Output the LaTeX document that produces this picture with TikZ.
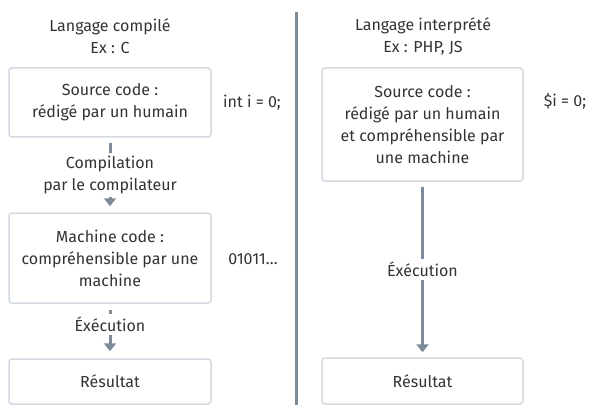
\documentclass[tikz,border=0pt]{standalone}
\usepackage{fontspec}
\setmainfont{Fira Sans}
\usetikzlibrary{arrows.meta}
\definecolor{txt}{HTML}{333333}
\definecolor{boxline}{HTML}{D3DAE1}
\definecolor{arrowc}{HTML}{7D8A97}
\tikzset{
  stepbox/.style={draw=boxline, line width=1.5pt, rounded corners=3pt, fill=white,
    text=txt, align=center, inner sep=0pt},
  plain/.style={text=txt, align=center, inner sep=0pt},
  flow/.style={draw=arrowc, line width=3pt, -{Triangle[width=12pt,length=8pt]}},
  flowlabel/.style={fill=white, text=txt, align=center, inner xsep=2pt, inner ysep=3pt},
}
\begin{document}
\begin{tikzpicture}[x=1pt,y=-1pt, font=\fontsize{16}{22}\selectfont]
\useasboundingbox (0,0) rectangle (605,417);
% titles
\node[plain] (t1) at (110,36.5) {Langage compilé\\Ex : C};
\node[plain] (t2) at (423,36.5) {Langage interprété\\Ex : PHP, JS};
% divider
\coordinate (d1) at (296,12);
\coordinate (d2) at (296,405);
\draw[arrowc, line width=3pt] (d1) -- (d2);
% left column
\node[stepbox, minimum width=202pt, minimum height=69pt] (ls) at (110,102.5) {Source code :\\rédigé par un humain};
\node[stepbox, minimum width=202pt, minimum height=90pt] (lm) at (110,258) {Machine code :\\compréhensible par une\\machine};
\node[stepbox, minimum width=202pt, minimum height=45pt] (lr) at (110,381.5) {Résultat};
% right column
\node[stepbox, minimum width=201pt, minimum height=113pt] (rs) at (422.5,124.5) {Source code :\\rédigé par un humain\\et compréhensible par\\une machine};
\node[stepbox, minimum width=201pt, minimum height=46pt] (rr) at (422.5,381) {Résultat};
% side notes
\node[plain] (n1) at (252,103) {int i = 0;};
\node[plain] (n2) at (253,259) {01011…};
\node[plain] (n3) at (565,101) {\$i = 0;};
% arrows
\draw[flow, shorten <=5pt, shorten >=6pt] (ls.south) -- (lm.north)
  node[flowlabel, midway] {Compilation\\par le compilateur};
\draw[flow, shorten <=6pt, shorten >=7pt] (lm.south) -- (lr.north)
  node[flowlabel, pos=0.38] {Éxécution};
\draw[flow, shorten <=5pt, shorten >=5pt] (rs.south) -- (rr.north)
  node[flowlabel, midway] {Éxécution};
\end{tikzpicture}
\end{document}
